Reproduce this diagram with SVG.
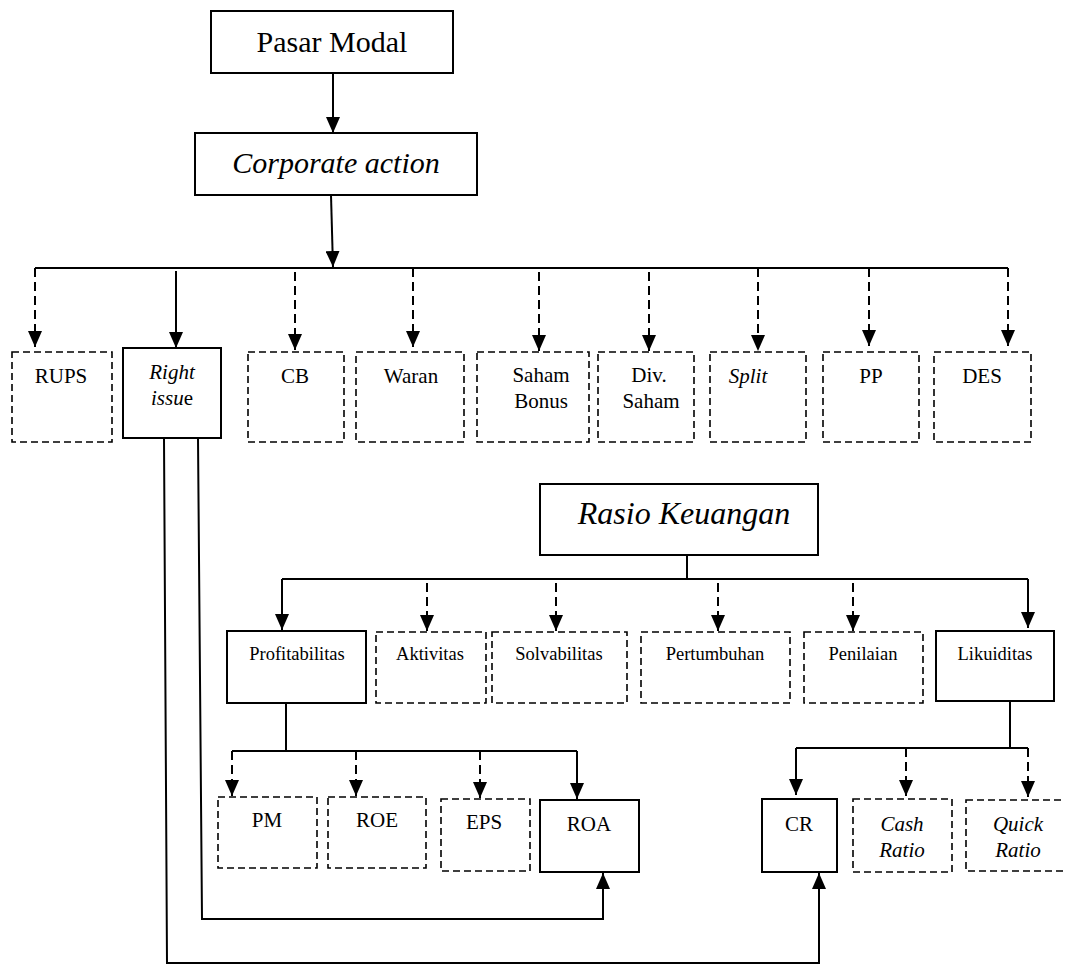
<svg xmlns="http://www.w3.org/2000/svg" width="1065" height="965" viewBox="0 0 1065 965">
<style>
.bx{fill:#fff;stroke:#000;stroke-width:2}
.dbx{fill:#fff;stroke:#000;stroke-width:1.6;stroke-dasharray:7,4}
.ln{fill:none;stroke:#000;stroke-width:2}
.dl{fill:none;stroke:#000;stroke-width:2;stroke-dasharray:9,5}
text{font-family:"Liberation Serif","Times New Roman",serif;fill:#000;text-anchor:middle}
.t30{font-size:30px}
.t32{font-size:32px}
.t21{font-size:21px}
.t18{font-size:18.5px}
.it{font-style:italic}
</style>
<defs>
<marker id="ah" markerUnits="userSpaceOnUse" markerWidth="16" markerHeight="14" refX="16" refY="7" orient="auto">
<path d="M0,0 L16,7 L0,14 z" fill="#000" stroke="none"/>
</marker>
</defs>
<g id="connectors">
<line class="ln" x1="333" y1="73" x2="333" y2="133" marker-end="url(#ah)"/>
<line class="ln" x1="331" y1="195" x2="333" y2="267" marker-end="url(#ah)"/>
<line class="ln" x1="35" y1="268" x2="1008" y2="268"/>
<line class="dl" x1="35" y1="268" x2="35" y2="347" marker-end="url(#ah)"/>
<line class="ln" x1="176" y1="271" x2="176" y2="348" marker-end="url(#ah)"/>
<line class="dl" x1="295" y1="272" x2="295" y2="350" marker-end="url(#ah)"/>
<line class="dl" x1="413" y1="268" x2="413" y2="347" marker-end="url(#ah)"/>
<line class="dl" x1="539" y1="272" x2="539" y2="351" marker-end="url(#ah)"/>
<line class="dl" x1="649" y1="272" x2="649" y2="351" marker-end="url(#ah)"/>
<line class="dl" x1="758" y1="268" x2="758" y2="351" marker-end="url(#ah)"/>
<line class="dl" x1="869" y1="268" x2="869" y2="346" marker-end="url(#ah)"/>
<line class="dl" x1="1008" y1="268" x2="1008" y2="346" marker-end="url(#ah)"/>
<line class="ln" x1="687" y1="555" x2="687" y2="579"/>
<line class="ln" x1="282" y1="579" x2="1028" y2="579"/>
<line class="ln" x1="282" y1="579" x2="282" y2="630" marker-end="url(#ah)"/>
<line class="dl" x1="427" y1="583" x2="427" y2="631" marker-end="url(#ah)"/>
<line class="dl" x1="556" y1="583" x2="556" y2="631" marker-end="url(#ah)"/>
<line class="dl" x1="718" y1="583" x2="718" y2="631" marker-end="url(#ah)"/>
<line class="dl" x1="853" y1="583" x2="853" y2="631" marker-end="url(#ah)"/>
<line class="ln" x1="1028" y1="579" x2="1028" y2="628" marker-end="url(#ah)"/>
<line class="ln" x1="286" y1="703" x2="286" y2="751"/>
<line class="ln" x1="232" y1="751" x2="577" y2="751"/>
<line class="dl" x1="232" y1="751" x2="232" y2="796" marker-end="url(#ah)"/>
<line class="dl" x1="356" y1="751" x2="356" y2="796" marker-end="url(#ah)"/>
<line class="dl" x1="480" y1="751" x2="480" y2="798" marker-end="url(#ah)"/>
<line class="ln" x1="577" y1="751" x2="577" y2="799" marker-end="url(#ah)"/>
<line class="ln" x1="1010" y1="701" x2="1010" y2="748"/>
<line class="ln" x1="796" y1="748" x2="1028" y2="748"/>
<line class="ln" x1="796" y1="748" x2="796" y2="795" marker-end="url(#ah)"/>
<line class="dl" x1="906" y1="748" x2="906" y2="796" marker-end="url(#ah)"/>
<line class="dl" x1="1028" y1="748" x2="1028" y2="797" marker-end="url(#ah)"/>
<polyline class="ln" points="198,438 202,919 603,919 603,873" marker-end="url(#ah)"/>
<polyline class="ln" points="164,438 167,963 819,963 819,873" marker-end="url(#ah)"/>
</g>
<g id="pasar-modal"><rect class="bx" x="211" y="11" width="242" height="62"/><text class="t30" x="332" y="52">Pasar Modal</text></g>
<g id="corporate-action"><rect class="bx" x="195" y="133" width="282" height="62"/><text class="t30 it" x="336" y="173">Corporate action</text></g>
<g id="rups"><rect class="dbx" x="12" y="352" width="100" height="90"/><text class="t21" x="61" y="383">RUPS</text></g>
<g id="right-issue"><rect class="bx" x="123" y="348" width="98" height="90"/><text class="t21 it" x="172" y="379">Right</text><text class="t21" x="172" y="405"><tspan class="it">issu</tspan>e</text></g>
<g id="cb"><rect class="dbx" x="248" y="352" width="96" height="90"/><text class="t21" x="295" y="383">CB</text></g>
<g id="waran"><rect class="dbx" x="356" y="352" width="108" height="90"/><text class="t21" x="411" y="383">Waran</text></g>
<g id="saham-bonus"><rect class="dbx" x="477" y="352" width="112" height="90"/><text class="t21" x="541" y="382">Saham</text><text class="t21" x="541" y="408">Bonus</text></g>
<g id="div-saham"><rect class="dbx" x="598" y="352" width="96" height="90"/><text class="t21" x="649" y="382">Div.</text><text class="t21" x="651" y="408">Saham</text></g>
<g id="split"><rect class="dbx" x="710" y="352" width="96" height="90"/><text class="t21 it" x="748" y="383">Split</text></g>
<g id="pp"><rect class="dbx" x="823" y="352" width="96" height="90"/><text class="t21" x="871" y="383">PP</text></g>
<g id="des"><rect class="dbx" x="934" y="352" width="97" height="90"/><text class="t21" x="982" y="383">DES</text></g>
<g id="rasio-keuangan"><rect class="bx" x="540" y="484" width="278" height="71"/><text class="t32 it" x="684" y="524">Rasio Keuangan</text></g>
<g id="profitabilitas"><rect class="bx" x="227" y="631" width="139" height="72"/><text class="t18" x="297" y="660">Profitabilitas</text></g>
<g id="aktivitas"><rect class="dbx" x="376" y="632" width="110" height="71"/><text class="t18" x="430" y="660">Aktivitas</text></g>
<g id="solvabilitas"><rect class="dbx" x="492" y="632" width="135" height="71"/><text class="t18" x="559" y="660">Solvabilitas</text></g>
<g id="pertumbuhan"><rect class="dbx" x="641" y="632" width="149" height="71"/><text class="t18" x="715" y="660">Pertumbuhan</text></g>
<g id="penilaian"><rect class="dbx" x="804" y="632" width="119" height="71"/><text class="t18" x="863" y="660">Penilaian</text></g>
<g id="likuiditas"><rect class="bx" x="936" y="631" width="118" height="70"/><text class="t18" x="995" y="660">Likuiditas</text></g>
<g id="pm"><rect class="dbx" x="218" y="797" width="99" height="71"/><text class="t21" x="267" y="827">PM</text></g>
<g id="roe"><rect class="dbx" x="328" y="797" width="98" height="71"/><text class="t21" x="377" y="827">ROE</text></g>
<g id="eps"><rect class="dbx" x="441" y="799" width="89" height="72"/><text class="t21" x="484" y="829">EPS</text></g>
<g id="roa"><rect class="bx" x="540" y="800" width="99" height="72"/><text class="t21" x="589" y="831">ROA</text></g>
<g id="cr"><rect class="bx" x="762" y="799" width="75" height="73"/><text class="t21" x="799" y="831">CR</text></g>
<g id="cash-ratio"><rect class="dbx" x="853" y="799" width="99" height="73"/><text class="t21 it" x="902" y="831">Cash</text><text class="t21 it" x="902" y="857">Ratio</text></g>
<g id="quick-ratio"><rect class="dbx" x="966" y="800" width="112" height="71"/><text class="t21 it" x="1018" y="831">Quick</text><text class="t21 it" x="1018" y="857">Ratio</text></g>
</svg>
